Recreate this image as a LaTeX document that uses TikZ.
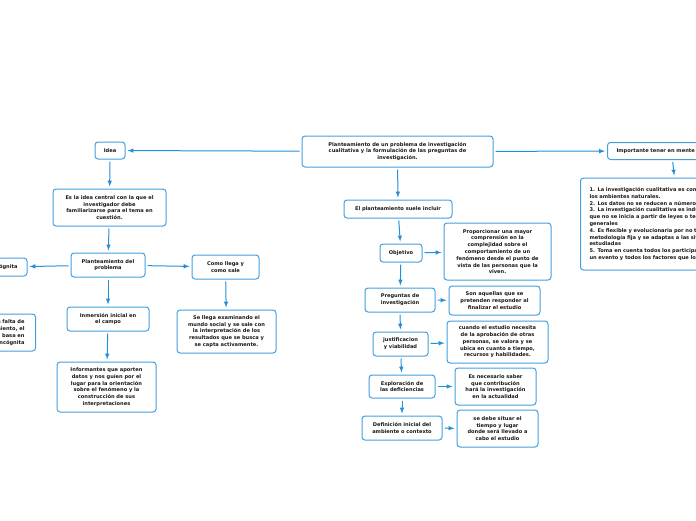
\documentclass[tikz,border=0pt]{standalone}
\usepackage{fontspec}
\setmainfont{DejaVu Sans}
\definecolor{mapblue}{RGB}{66,160,224}
\definecolor{linkblue}{RGB}{38,142,216}
\begin{document}
\begin{tikzpicture}[x=1pt,y=-1pt,
  every node/.style={font=\fontsize{5.1}{6.8}\selectfont\bfseries,text=black!90},
  box/.style={draw=mapblue,line width=1pt,rounded corners=3pt,fill=white,align=center,inner sep=1pt},
  link/.style={draw=linkblue,line width=1pt,-latex,shorten >=2pt,shorten <=2pt}]
 \useasboundingbox (0,0) rectangle (696,520);
 \clip (0,0) rectangle (696,520);
 \node [box,minimum width=191,minimum height=31] (root) at (397.5,151.5)
  {Planteamiento de un problema de investigación\\cualitativa y la formulación de las preguntas de\\investigación.};
 \node [box,minimum width=30,minimum height=17] (idea) at (110,150.5) {Idea};
 \node [box,minimum width=113,minimum height=37] (ideadesc) at (109.5,207.5)
  {Es la idea central con la que el\\investigador debe\\familiarizarse para el tema en\\cuestión.};
 \node [box,minimum width=74,minimum height=24] (plant) at (108,265) {Planteamiento del\\problema};
 \node [box,minimum width=46,minimum height=18] (incog) at (4,267) {Incógnita};
 \node [box,anchor=east,text width=64,align=right,inner xsep=11,minimum height=37] (incogdesc) at (36,332.5)
  {Es la falta de\\conocimiento, el\\problema se basa en\\la incógnita};
 \node [box,minimum width=67,minimum height=24] (como) at (225.5,267) {Como llega y\\como sale};
 \node [box,minimum width=99,minimum height=43] (comodesc) at (226.5,331.5)
  {Se llega examinando el\\mundo social y se sale con\\la interpretación de los\\resultados que se busca y\\se capta activamente.};
 \node [box,minimum width=82,minimum height=24] (inmersion) at (108,319) {Inmersión inicial en\\el campo};
 \node [box,minimum width=99,minimum height=50] (informantes) at (106.5,387)
  {Informantes que aporten\\datos y nos guíen por el\\lugar para la orientación\\sobre el fenómeno y la\\construcción de sus\\interpretaciones};
 \node [box,anchor=west,text width=110,align=left,inner xsep=9,minimum height=17] (importante) at (607,151) {Importante tener en mente};
 \node [box,anchor=west,text width=180,align=left,inner xsep=9,minimum height=92] (impdesc) at (580,224)
  {1. La investigación cualitativa es conducida en\\los ambientes naturales.\\2. Los datos no se reducen a números.\\3. La investigación cualitativa es inductiva ya\\que no se inicia a partir de leyes o teorías\\generales\\4. Es flexible y evolucionaria por no tener una\\metodología fija y se adaptas a las situaciones\\estudiadas\\5. Toma en cuenta todos los participantes de\\un evento y todos los factores que lo afectan};
 \node [box,minimum width=108,minimum height=18] (incluir) at (398,209) {El planteamiento suele incluir};
 \node [box,minimum width=42,minimum height=18] (objetivo) at (401,253) {Objetivo};
 \node [box,minimum width=107,minimum height=57] (objdesc) at (497.5,251.5)
  {Proporcionar una mayor\\comprensión en la\\complejidad sobre el\\comportamiento de un\\fenómeno desde el punto de\\vista de las personas que la\\viven.};
 \node [box,minimum width=70,minimum height=24] (preguntas) at (400,300) {Preguntas de\\investigación};
 \node [box,minimum width=91,minimum height=29] (pregdesc) at (494.5,300.5)
  {Son aquellas que se\\pretenden responder al\\finalizar el estudio};
 \node [box,minimum width=55,minimum height=24] (justif) at (400.5,344) {justificacion\\y viabilidad};
 \node [box,minimum width=101,minimum height=42] (justdesc) at (497.5,342)
  {cuando el estudio necesita\\de la aprobación de otras\\personas, se valora y se\\ubica en cuanto a tiempo,\\recursos y habilidades.};
 \node [box,minimum width=66,minimum height=23] (explor) at (402,386.5) {Exploración de\\las deficiencias};
 \node [box,minimum width=81,minimum height=37] (expldesc) at (495.5,386.5)
  {Es necesario saber\\que contribución\\hará la investigación\\en la actualidad};
 \node [box,minimum width=80,minimum height=24] (defin) at (402,428) {Definición inicial del\\ambiente o contexto};
 \node [box,minimum width=81,minimum height=37] (defdesc) at (497.5,428.5)
  {se debe situar el\\tiempo y lugar\\donde será llevado a\\cabo el estudio};
 \foreach \a/\b in {root/idea,idea/ideadesc,ideadesc/plant,plant/incog,
   plant/como,como/comodesc,plant/inmersion,inmersion/informantes,
   root/importante,importante/impdesc,root/incluir,incluir/objetivo,objetivo/objdesc,
   objetivo/preguntas,preguntas/pregdesc,preguntas/justif,justif/justdesc,
   justif/explor,explor/expldesc,explor/defin,defin/defdesc}
  \draw [link] (\a) -- (\b);
\end{tikzpicture}
\end{document}
